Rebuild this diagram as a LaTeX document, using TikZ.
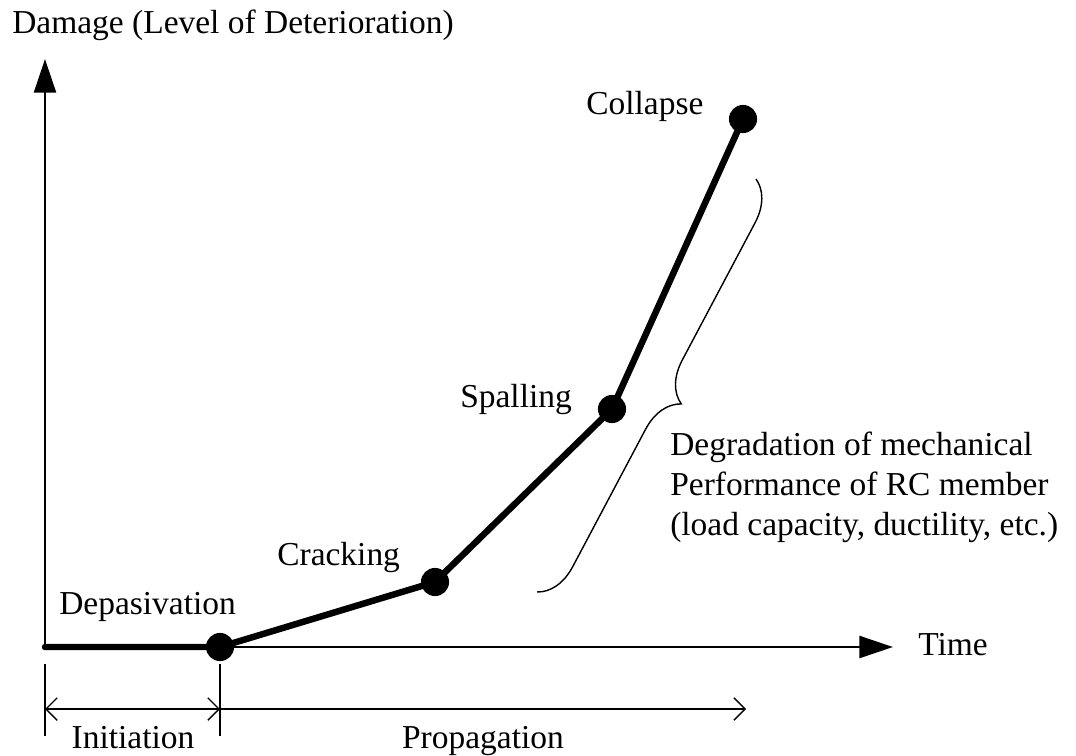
\documentclass[tikz,border=0pt]{standalone}
\usepackage{fontspec}
\setmainfont{Liberation Serif}
\usetikzlibrary{arrows.meta,decorations.pathreplacing}

\tikzset{
	dot/.style={circle, fill=black, minimum size=20pt, inner sep=0pt},
	lbl/.style={anchor=base west},
	axis/.style={line width=2pt, -{Triangle[length=24pt,width=15.6pt]}},
	curve/.style={line width=4.6pt, line join=round, line cap=round},
	tick/.style={line width=1pt},
	span/.style={line width=1pt, {Straight Barb[length=8pt,width=16pt]}-{Straight Barb[length=8pt,width=16pt]}},
	spanend/.style={line width=1pt, -{Straight Barb[length=8pt,width=16pt]}},
}

\begin{document}
\begin{tikzpicture}[x=0.025cm, y=-0.025cm]
		\tikzstyle{every node}+=[inner sep=0pt, font=\fontsize{23.8}{28.4}\selectfont]
		\useasboundingbox (0,0) rectangle (1076,755);
		% axes
		\coordinate (o) at (45,647);
		\coordinate (ytip) at (45,59);
		\coordinate (xtip) at (893,647);
		\draw [axis] (o) -- (ytip);
		\draw [axis] (o) -- (xtip);
		\node [lbl] (damlbl) at (12,34) {Damage (Level of Deterioration)};
		\node [lbl] (timelbl) at (918,655) {Time};
		% damage curve
		\node [dot] (dep) at (220,647) {};
		\node [dot] (crk) at (435,582) {};
		\node [dot] (spl) at (612,409) {};
		\node [dot] (col) at (743,119) {};
		\draw [curve] (o) -- (dep.center) -- (crk.center) -- (spl.center) -- (col.center);
		\node [lbl] (deplbl) at (59,614) {Depasivation};
		\node [lbl] (crklbl) at (277,565) {Cracking};
		\node [lbl] (spllbl) at (460,407) {Spalling};
		\node [lbl] (collbl) at (586,115) {Collapse};
		% brace
		\coordinate (bt) at (756,179);
		\coordinate (bb) at (537,592);
		\draw [line width=1pt, decorate, decoration={brace, amplitude=28pt}] (bt) -- (bb);
		\node [anchor=north west, align=left] (deglbl) at (670,432) {Degradation of mechanical\\Performance of RC member\\(load capacity, ductility, etc.)};
		% periods
		\coordinate (t0a) at (45,664);
		\coordinate (t0b) at (45,736);
		\coordinate (t1a) at (220,664);
		\coordinate (t1b) at (220,736);
		\draw [tick] (t0a) -- (t0b);
		\draw [tick] (t1a) -- (t1b);
		\coordinate (s0) at (45,709);
		\coordinate (s1) at (220,709);
		\coordinate (s2) at (746,709);
		\draw [span] (s0) -- (s1);
		\draw [spanend] (s1) -- (s2);
		\node [anchor=base] (inilbl) at (133,748) {Initiation};
		\node [anchor=base] (proplbl) at (483,748) {Propagation};
	\end{tikzpicture}
\end{document}
